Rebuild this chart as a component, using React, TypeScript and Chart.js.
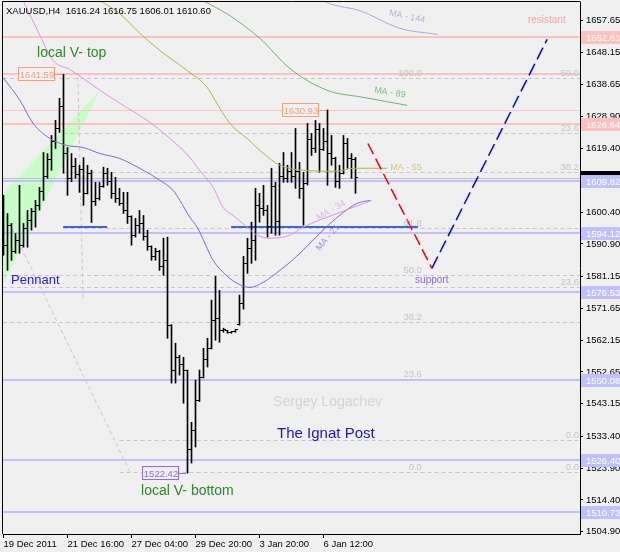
import React, { useEffect, useRef } from 'react';
import { Chart, registerables } from 'chart.js';

Chart.register(...registerables);

const FAMILY = "'Liberation Sans', Arial, sans-serif";

// ---------- H4 bars (XAUUSD) ----------
const barOpen = [
  1601.0, 1590.5, 1596.5, 1588.5, 1592.0, 1590.5, 1595.5, 1598.0, 1600.5, 1602.5,
  1606.5, 1611.0, 1616.0, 1621.5, 1625.5, 1632.0, 1618.0, 1610.5, 1614.0, 1611.5,
  1613.0, 1606.0, 1612.0, 1603.5, 1604.5, 1608.0, 1612.0, 1609.5, 1606.0, 1604.5,
  1603.0, 1601.0, 1599.0, 1593.5, 1596.5, 1597.0, 1593.0, 1590.0, 1587.0, 1588.5,
  1584.0, 1586.0, 1566.5, 1553.0, 1557.0, 1555.0, 1553.0, 1529.5, 1535.0, 1544.0,
  1551.0, 1556.5, 1559.5, 1568.0, 1568.5, 1565.0, 1565.0, 1564.5, 1564.6, 1566.8,
  1573.0, 1585.0, 1589.5, 1592.0, 1602.5, 1601.5, 1601.0, 1596.0, 1608.0, 1597.5,
  1611.0, 1610.5, 1612.5, 1611.0, 1612.5, 1607.5, 1609.0, 1622.0, 1619.5, 1625.0,
  1619.0, 1621.5, 1618.0, 1616.5, 1609.5, 1612.0, 1621.0, 1616.5, 1616.24,
];
const barHigh = [
  1605.4, 1600.0, 1597.0, 1594.0, 1608.4, 1597.0, 1600.9, 1601.5, 1603.9, 1607.8,
  1618.2, 1617.9, 1623.3, 1627.8, 1634.4, 1641.59, 1619.7, 1617.9, 1616.5, 1614.4,
  1616.7, 1614.4, 1612.9, 1609.3, 1609.3, 1613.8, 1613.5, 1612.3, 1610.8, 1607.5,
  1606.3, 1606.3, 1599.3, 1598.5, 1600.9, 1599.4, 1595.0, 1590.3, 1589.6, 1589.0,
  1592.6, 1592.9, 1566.8, 1561.2, 1557.6, 1557.0, 1553.2, 1537.6, 1550.2, 1553.2,
  1559.7, 1562.7, 1574.1, 1581.2, 1577.0, 1565.7, 1565.1, 1564.8, 1565.4, 1575.6,
  1587.2, 1592.6, 1597.4, 1607.5, 1606.0, 1608.4, 1602.4, 1613.5, 1609.3, 1615.0,
  1618.2, 1614.4, 1618.2, 1625.4, 1615.3, 1612.3, 1626.9, 1623.9, 1627.8, 1626.9,
  1625.4, 1630.93, 1623.3, 1616.8, 1614.4, 1623.3, 1622.4, 1617.9, 1616.75,
];
const barLow = [
  1587.5, 1583.0, 1586.0, 1588.1, 1588.1, 1589.9, 1589.9, 1595.0, 1595.9, 1601.0,
  1603.9, 1610.5, 1612.9, 1619.4, 1624.2, 1612.0, 1605.4, 1609.5, 1610.5, 1606.3,
  1602.4, 1605.8, 1597.3, 1602.4, 1604.0, 1607.8, 1608.4, 1604.5, 1603.3, 1602.4,
  1600.0, 1597.0, 1590.5, 1592.9, 1594.1, 1592.0, 1589.0, 1586.0, 1586.0, 1583.0,
  1581.5, 1562.7, 1549.3, 1549.3, 1551.7, 1543.3, 1522.42, 1525.4, 1530.2, 1543.8,
  1550.8, 1554.1, 1559.5, 1562.1, 1561.5, 1564.5, 1564.2, 1564.2, 1564.5, 1566.6,
  1571.4, 1582.1, 1585.1, 1586.0, 1597.4, 1599.4, 1592.9, 1594.1, 1593.5, 1593.5,
  1609.3, 1609.3, 1609.3, 1607.5, 1604.5, 1596.5, 1608.5, 1617.3, 1618.2, 1612.3,
  1618.8, 1608.4, 1614.4, 1607.8, 1607.5, 1611.8, 1613.5, 1610.5, 1606.01,
];
const barClose = [
  1590.5, 1596.5, 1588.5, 1592.0, 1590.5, 1595.5, 1598.0, 1600.5, 1602.5, 1606.5,
  1611.0, 1616.0, 1621.5, 1625.5, 1632.0, 1618.0, 1610.5, 1614.0, 1611.5, 1613.0,
  1606.0, 1612.0, 1603.5, 1604.5, 1608.0, 1612.0, 1609.5, 1606.0, 1604.5, 1603.0,
  1601.0, 1599.0, 1593.5, 1596.5, 1597.0, 1593.0, 1590.0, 1587.0, 1588.5, 1584.0,
  1586.0, 1566.5, 1553.0, 1557.0, 1555.0, 1553.0, 1529.5, 1535.0, 1544.0, 1551.0,
  1556.5, 1559.5, 1568.0, 1568.5, 1565.0, 1565.3, 1564.5, 1564.6, 1565.2, 1573.0,
  1585.0, 1589.5, 1592.0, 1602.5, 1601.5, 1601.0, 1596.0, 1608.0, 1597.5, 1611.0,
  1610.5, 1612.5, 1611.0, 1612.5, 1607.5, 1609.0, 1622.0, 1619.5, 1625.0, 1619.0,
  1621.5, 1618.0, 1616.5, 1609.5, 1612.0, 1621.0, 1616.5, 1616.2, 1610.60,
];

// ---------- axes ----------
const timeTickBars = [0, 16, 32, 48, 64, 80];
const timeLabels = ['19 Dec 2011', '21 Dec 16:00', '27 Dec 04:00', '29 Dec 20:00', '3 Jan 20:00', '6 Jan 12:00'];
const priceTicks = [
  1657.65, 1648.15, 1638.65, 1628.9, 1619.4, 1609.9, 1600.4, 1590.9, 1581.15,
  1571.65, 1562.15, 1552.65, 1543.15, 1533.4, 1523.9, 1514.4, 1504.9,
];
const priceMin = 1504.21;
const priceMax = 1663.18;
const barMin = -0.125;
const barMax = 144.125;

// ---------- moving averages [bar index, price] ----------
type Pt = [number, number];
const ma144: Pt[] = [[79, 1664.0], [82, 1662.5], [89.1, 1660.6], [99.1, 1655.3], [108.6, 1653.5]];
const ma89: Pt[] = [[49.9, 1663.6], [56.6, 1659.1], [64.1, 1652.3], [71.6, 1643.3], [80.9, 1636.8], [89.9, 1634.7], [100.9, 1632.3]];
const ma55: Pt[] = [
  [24.1, 1663.6], [29.1, 1659.7], [34.1, 1653.8], [39.1, 1648.7], [45.9, 1642.7], [50.9, 1637.7],
  [52.9, 1633.8], [56.6, 1626.9], [60.9, 1622.4], [64.9, 1618.0], [69.1, 1614.4], [74.9, 1612.9],
  [83.4, 1612.6], [87.4, 1613.5], [95.9, 1613.5],
];
const ma34: Pt[] = [
  [4.9, 1663.6], [9.1, 1653.2], [12.4, 1645.7], [16.6, 1643.0], [24.1, 1636.8], [29.1, 1632.9],
  [35.9, 1627.8], [41.6, 1622.4], [46.6, 1616.7], [48.4, 1613.8], [52.4, 1607.8], [54.9, 1601.8],
  [57.4, 1599.4], [60.9, 1595.9], [63.4, 1593.5], [66.6, 1592.6], [71.6, 1593.5], [74.9, 1595.9],
  [83.4, 1600.0], [92.1, 1603.9],
];
const ma21: Pt[] = [
  [-0.1, 1640.6], [4.1, 1633.8], [7.4, 1626.9], [11.6, 1622.4], [15.9, 1620.3], [19.9, 1619.7],
  [24.1, 1617.9], [29.1, 1616.4], [34.9, 1612.9], [39.1, 1609.9], [42.4, 1606.9], [44.1, 1603.9],
  [46.6, 1598.8], [48.4, 1595.9], [52.4, 1586.0], [54.9, 1582.4], [58.4, 1579.1], [61.6, 1577.9],
  [64.9, 1579.4], [69.1, 1583.0], [71.6, 1585.4], [74.9, 1589.0], [79.1, 1594.1], [83.4, 1598.8],
  [88.4, 1603.0], [91.6, 1603.9],
];

// ---------- drawn objects ----------
const redPath: Pt[] = [[91.1, 1620.9], [107.1, 1583.6]];
const bluePath: Pt[] = [[107.1, 1583.6], [135.9, 1652.0]];
const pennant: Pt[] = [[-0.3, 1605.6], [24.1, 1636.8], [-0.3, 1578.3]];
const pinkThick = [1652.61, 1641.59, 1626.64];
const pinkThin = [1630.93];
const lavenderLevels = [1609.82, 1594.12, 1576.53, 1550.08, 1526.4, 1510.73];
const pinkTags = [1652.61, 1626.64];
const bidPrice = 1610.6;
const fibLevelPrices = [1640.6, 1623.9, 1612.3, 1595.6, 1581.65, 1578.0, 1567.7, 1550.5, 1532.3, 1522.7];
const fibLevelStart = [-1, 15, 15, 15, -1, -1, -1, -1, 29, 29];
const fibLeftLabels = ['100.0', '61.8', '50.0', '38.2', '23.6', '0.0'];
const fibLeftPrices = [1640.6, 1595.6, 1581.65, 1567.7, 1550.5, 1522.7];
const fibRightLabels = ['50.0', '23.6', '38.2', '23.6', '0.0', '0.0'];
const fibRightPrices = [1640.6, 1623.9, 1612.3, 1578.0, 1532.3, 1522.7];
const fibDiagonals: Pt[][] = [[[18.6, 1640.8], [19.9, 1574.2]], [[-0.1, 1601.0], [31.6, 1522.7]]];
const blueSegPrice = 1596.0;
const blueSegs: Pt[] = [[14.9, 25.9], [56.9, 103.6]];
const markedBars = [15, 81, 46];
const markedPrices = [1641.59, 1630.93, 1522.42];

const notes = [
  { text: 'local V- top', at: [8.4, 1646.7], color: '#2a8a2a', size: 14 },
  { text: 'Pennant', at: [1.9, 1578.9], color: '#2020e0', size: 13 },
  { text: 'local V- bottom', at: [34.4, 1515.9], color: '#2a8a2a', size: 14 },
  { text: 'Sergey Logachev', at: [67.4, 1542.5], color: '#d4d4d4', size: 14 },
  { text: 'The Ignat Post', at: [68.4, 1532.9], color: '#1818c8', size: 15 },
  { text: 'support', at: [102.9, 1579.2], color: '#8866ee', size: 10 },
  { text: 'resistant', at: [131.1, 1656.9], color: '#f0a8a8', size: 10 },
];
const maNotes = [
  { text: 'MA - 144', at: [100.9, 1658.8], color: '#b4b4dc', rot: 12 },
  { text: 'MA - 89', at: [96.6, 1636.1], color: '#80bc80', rot: 9 },
  { text: 'MA - 55', at: [100.6, 1613.7], color: '#d6c67c', rot: 0 },
  { text: 'MA - 34', at: [81.9, 1600.9], color: '#e8b0e8', rot: -30 },
  { text: 'MA - 21', at: [81.1, 1592.8], color: '#a890e8', rot: -50 },
];

export default function App() {
  const canvasRef = useRef<HTMLCanvasElement | null>(null);

  useEffect(() => {
    const canvas = canvasRef.current;
    if (!canvas) return;

    const mkTick = (left: boolean) => {
      const c = document.createElement('canvas');
      c.width = 5;
      c.height = 1;
      const g = c.getContext('2d')!;
      g.fillStyle = '#000';
      g.fillRect(left ? 0 : 3, 0, 2, 1);
      return c;
    };
    const openTick = mkTick(true);
    const closeTick = mkTick(false);

    const toPts = (arr: Pt[]) => arr.map(([x, y]) => ({ x, y }));
    const lineDs = (arr: Pt[], color: string, order: number, dash: number[] = [], width = 1) => ({
      type: 'line',
      data: toPts(arr),
      borderColor: color,
      borderWidth: width,
      borderDash: dash,
      pointRadius: 0,
      tension: 0.4,
      cubicInterpolationMode: 'monotone',
      fill: false,
      order,
    });

    const overlay = {
      id: 'mt4overlay',
      beforeDraw(chart: any) {
        const c = chart.ctx;
        c.save();
        c.fillStyle = '#f0f0f0';
        c.fillRect(0, 0, chart.width, chart.height);
        c.restore();
      },
      beforeDatasetsDraw(chart: any) {
        const c = chart.ctx;
        const a = chart.chartArea;
        const xs = chart.scales.x;
        const ys = chart.scales.y;
        const X = (v: number) => xs.getPixelForValue(v);
        const Y = (v: number) => ys.getPixelForValue(v);
        c.save();
        c.beginPath();
        c.rect(a.left, a.top, a.right - a.left, a.bottom - a.top);
        c.clip();
        // pennant
        c.fillStyle = '#c8fdc8';
        c.beginPath();
        pennant.forEach(([i, p], k) => (k ? c.lineTo(X(i), Y(p)) : c.moveTo(X(i), Y(p))));
        c.closePath();
        c.fill();
        // fibo levels
        c.strokeStyle = '#c8c8c8';
        c.lineWidth = 1;
        c.setLineDash([4, 3]);
        fibLevelPrices.forEach((p, k) => {
          const y = Math.round(Y(p)) + 0.5;
          c.beginPath();
          c.moveTo(Math.max(a.left, X(fibLevelStart[k])), y);
          c.lineTo(a.right, y);
          c.stroke();
        });
        fibDiagonals.forEach(([[i0, p0], [i1, p1]]) => {
          c.beginPath();
          c.moveTo(X(i0), Y(p0));
          c.lineTo(X(i1), Y(p1));
          c.stroke();
        });
        c.setLineDash([]);
        // horizontal levels
        const hline = (p: number, color: string, h: number) => {
          c.fillStyle = color;
          const y = Math.round(Y(p));
          c.fillRect(a.left, y - Math.floor(h / 2), a.right - a.left, h);
        };
        hline(bidPrice, '#c0c0c0', 1);
        pinkThin.forEach((p) => hline(p, '#ffc6c6', 1));
        pinkThick.forEach((p) => hline(p, '#ffc0c0', 2));
        lavenderLevels.forEach((p) => hline(p, '#c0c0ff', 2));
        // blue segments
        c.fillStyle = '#3c64e0';
        blueSegs.forEach(([i0, i1]) => {
          const y = Math.round(Y(blueSegPrice));
          c.fillRect(X(i0), y - 1, X(i1) - X(i0), 2);
        });
        c.restore();
      },
      afterDatasetsDraw(chart: any) {
        const c = chart.ctx;
        const a = chart.chartArea;
        const xs = chart.scales.x;
        const ys = chart.scales.y;
        const X = (v: number) => xs.getPixelForValue(v);
        const Y = (v: number) => ys.getPixelForValue(v);
        c.save();
        c.beginPath();
        c.rect(a.left, a.top, a.right - a.left, a.bottom - a.top);
        c.clip();
        // fib labels
        c.font = `9.5px ${FAMILY}`;
        c.fillStyle = '#c4c4c4';
        c.textAlign = 'right';
        c.textBaseline = 'alphabetic';
        fibLeftLabels.forEach((t, k) => c.fillText(t, X(104.6), Math.round(Y(fibLeftPrices[k])) - 2));
        fibRightLabels.forEach((t, k) => c.fillText(t, a.right - 1, Math.round(Y(fibRightPrices[k])) - 2));
        // notes
        c.textAlign = 'left';
        notes.forEach((n) => {
          c.font = `${n.size}px ${FAMILY}`;
          c.fillStyle = n.color;
          c.fillText(n.text, X(n.at[0]), Y(n.at[1]));
        });
        // MA labels
        c.font = `9px ${FAMILY}`;
        maNotes.forEach((n) => {
          c.save();
          c.translate(X(n.at[0]), Y(n.at[1]));
          c.rotate((n.rot * Math.PI) / 180);
          c.textAlign = 'center';
          c.textBaseline = 'middle';
          c.fillStyle = n.color;
          c.fillText(n.text, 0, 0);
          c.restore();
        });
        // price marks
        c.font = `9.5px ${FAMILY}`;
        markedBars.forEach((b, k) => {
          const p = markedPrices[k];
          const color = k === 2 ? '#8c6cf0' : '#f2a07e';
          const px = Math.round(X(b));
          const y = Math.round(Y(p));
          const right = px - 10;
          c.strokeStyle = color;
          c.lineWidth = 1;
          c.fillStyle = '#f0f0f0';
          c.fillRect(right - 36, y - 6, 36, 13);
          c.strokeRect(right - 35.5, y - 6.5, 36, 13);
          c.beginPath();
          c.moveTo(right + 0.5, y + 0.5);
          c.lineTo(px - 2, y + 0.5);
          c.stroke();
          c.fillStyle = color;
          c.textAlign = 'center';
          c.textBaseline = 'middle';
          c.fillText(p.toFixed(2), right - 17, y + 1);
        });
        // header
        c.font = `9.5px ${FAMILY}`;
        c.fillStyle = '#000';
        c.textAlign = 'left';
        c.textBaseline = 'alphabetic';
        const last = barOpen.length - 1;
        c.fillText(
          `XAUUSD,H4  ${barOpen[last].toFixed(2)} ${barHigh[last].toFixed(2)} ${barLow[last].toFixed(2)} ${barClose[last].toFixed(2)}`,
          a.left + 3,
          a.top + 12
        );
        c.restore();
      },
      afterDraw(chart: any) {
        const c = chart.ctx;
        const a = chart.chartArea;
        const ys = chart.scales.y;
        const Y = (v: number) => ys.getPixelForValue(v);
        c.save();
        c.font = `9.5px ${FAMILY}`;
        c.textAlign = 'left';
        c.textBaseline = 'middle';
        const tag = (p: number, bg: string, label: string, dy = 0) => {
          const y = Math.round(Y(p)) + dy;
          c.fillStyle = bg;
          c.fillRect(a.right + 1, y - 6, chart.width - a.right - 1, 13);
          c.fillStyle = '#ffffff';
          c.fillText(label, a.right + 6, y + 1);
        };
        tag(bidPrice, '#000000', bidPrice.toFixed(2), -1);
        pinkTags.forEach((p) => tag(p, '#ffc0c0', p.toFixed(2)));
        lavenderLevels.forEach((p) => tag(p, '#c0c0ff', p.toFixed(2)));
        // frame
        c.strokeStyle = '#000';
        c.lineWidth = 1;
        c.beginPath();
        c.moveTo(a.left - 0.5, a.bottom);
        c.lineTo(a.left - 0.5, a.top - 0.5);
        c.lineTo(a.right + 0.5, a.top - 0.5);
        c.stroke();
        c.restore();
      },
    };

    const idx = barOpen.map((_, i) => i);
    const chart = new Chart(canvas, {
      type: 'line',
      data: {
        datasets: [
          lineDs(redPath, '#ff0000', 1, [12, 5], 1.5) as any,
          lineDs(bluePath, '#0000ff', 1, [13, 5], 1.5) as any,
          lineDs(ma144, '#aaaad6', 3) as any,
          lineDs(ma89, '#6fb46f', 3) as any,
          lineDs(ma55, '#b5b050', 3) as any,
          lineDs(ma34, '#dc98dc', 3) as any,
          lineDs(ma21, '#8a62e4', 3) as any,
          {
            type: 'line',
            data: idx.map((i) => ({ x: i, y: barOpen[i] })),
            showLine: false,
            pointStyle: openTick as any,
            pointRadius: 1,
            pointHoverRadius: 1,
            order: 4,
          } as any,
          {
            type: 'line',
            data: idx.map((i) => ({ x: i, y: barClose[i] })),
            showLine: false,
            pointStyle: closeTick as any,
            pointRadius: 1,
            pointHoverRadius: 1,
            order: 4,
          } as any,
          {
            type: 'bar',
            data: idx.map((i) => ({ x: i, y: [barLow[i], barHigh[i]] })),
            backgroundColor: '#000000',
            borderWidth: 0,
            barThickness: 1,
            grouped: false,
            order: 5,
          } as any,
        ],
      },
      options: {
        responsive: false,
        animation: false,
        devicePixelRatio: 1,
        events: [],
        layout: { padding: { left: 3, top: 2, right: 0, bottom: 0 } },
        plugins: { legend: { display: false }, tooltip: { enabled: false } },
        font: { family: FAMILY },
        scales: {
          x: {
            type: 'linear',
            min: barMin,
            max: barMax,
            bounds: 'data',
            offset: false,
            afterFit: (s: any) => {
              s.height = 18;
              s.paddingLeft = 0;
              s.paddingRight = 0;
            },
            afterBuildTicks: (s: any) => {
              s.ticks = timeTickBars.map((v) => ({ value: v }));
            },
            ticks: {
              callback: (v: any) => timeLabels[timeTickBars.indexOf(Number(v))] ?? '',
              autoSkip: false,
              maxRotation: 0,
              minRotation: 0,
              align: 'start',
              padding: 1,
              color: '#000',
              font: { size: 9.5, family: FAMILY },
            },
            grid: { drawOnChartArea: false, drawTicks: true, tickLength: 4, color: '#000', offset: false },
            border: { display: true, color: '#000' },
          },
          y: {
            type: 'linear',
            position: 'right',
            min: priceMin,
            max: priceMax,
            bounds: 'data',
            beginAtZero: false,
            afterFit: (s: any) => {
              s.width = 40;
              s.paddingTop = 0;
              s.paddingBottom = 0;
            },
            afterBuildTicks: (s: any) => {
              s.ticks = priceTicks.map((v) => ({ value: v }));
            },
            ticks: {
              callback: (v: any) => Number(v).toFixed(2),
              autoSkip: false,
              padding: 3,
              color: '#000',
              font: { size: 9.5, family: FAMILY },
            },
            grid: { drawOnChartArea: false, drawTicks: true, tickLength: 3, color: '#000' },
            border: { display: true, color: '#000' },
          },
        },
      } as any,
      plugins: [overlay as any],
    });

    return () => chart.destroy();
  }, []);

  return (
    <div style={{ position: 'absolute', left: 0, top: 0, width: 620, height: 552, background: '#f0f0f0' }}>
      <canvas ref={canvasRef} width={620} height={552} style={{ display: 'block', width: 620, height: 552 }} />
    </div>
  );
}
